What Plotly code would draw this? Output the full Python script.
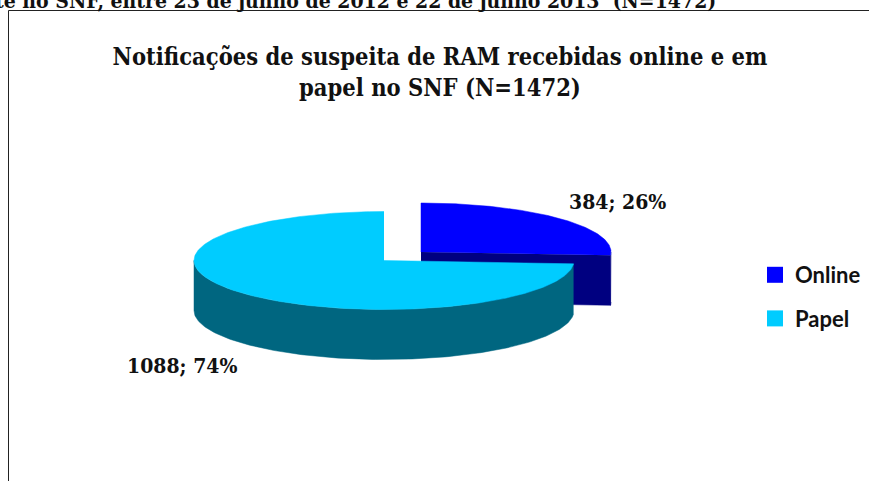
import numpy as np
import plotly.graph_objects as go

categories = ["Online", "Papel"]
values = [384, 1088]
top_colors = ["#0000FF", "#00CCFF"]
side_colors = ["#000080", "#006680"]

title_text = "Notificações de suspeita de RAM recebidas online e em<br>papel no SNF (N=1472)"
caption_text = "te no SNF, entre 23 de junho de 2012 e 22 de junho 2013  (N=1472)"

SERIF = "DejaVu Serif Condensed, DejaVu Serif"
W, H = 869, 481
RX, RY, DEPTH = 190, 49, 50
centres = [(421, 252), (384, 260.5)]

total = sum(values)
fractions = [v / total for v in values]
starts = np.cumsum([0] + fractions[:-1]) * 2 * np.pi
ends = np.cumsum(fractions) * 2 * np.pi


def rim(cx, cy, a0, a1, n=160, dy=0):
    t = np.linspace(a0, a1, n)
    return cx + RX * np.sin(t), cy - RY * np.cos(t) + dy


def poly(x, y, color, name):
    return go.Scatter(x=list(x), y=list(y), mode="lines", fill="toself", fillcolor=color,
                      line=dict(color=color, width=0.5), hoverinfo="skip", showlegend=False, name=name)


fig = go.Figure()

# Online slice: cut face (drawn first), outer wall, top
cx, cy = centres[0]
a0, a1 = starts[0], ends[0]
ex, ey = rim(cx, cy, a1, a1, n=1)
fig.add_trace(poly([cx, ex[0], ex[0], cx], [cy, ey[0], ey[0] + DEPTH, cy + DEPTH], side_colors[0], categories[0]))
x1, y1 = rim(cx, cy, np.pi / 2, a1, n=12)
x2, y2 = rim(cx, cy, a1, np.pi / 2, n=12, dy=DEPTH)
fig.add_trace(poly(np.r_[x1, x2], np.r_[y1, y2], side_colors[0], categories[0]))
x1, y1 = rim(cx, cy, a0, a1)
fig.add_trace(poly(np.r_[cx, x1], np.r_[cy, y1], top_colors[0], categories[0]))

# Papel slice: visible wall then top
cx, cy = centres[1]
a0, a1 = starts[1], ends[1]
x1, y1 = rim(cx, cy, a0, 1.5 * np.pi)
x2, y2 = rim(cx, cy, 1.5 * np.pi, a0, dy=DEPTH)
fig.add_trace(poly(np.r_[x1, x2], np.r_[y1, y2], side_colors[1], categories[1]))
x1, y1 = rim(cx, cy, a0, a1, n=300)
fig.add_trace(poly(np.r_[cx, x1], np.r_[cy, y1], top_colors[1], categories[1]))

# Legend entries
for name, color in zip(categories, top_colors):
    fig.add_trace(go.Scatter(x=[None], y=[None], mode="markers", name=name, legendgroup=name,
                             marker=dict(symbol="square", size=16, color=color)))

labels = [f"{v}; {round(f * 100)}%" for v, f in zip(values, fractions)]
label_pos = [(617, 201), (182, 365)]
for text, (lx, ly) in zip(labels, label_pos):
    fig.add_annotation(x=lx, y=ly, text=text, showarrow=False, xanchor="center", yanchor="middle",
                       font=dict(family=SERIF, size=21, color="#111111", weight="bold"))

fig.add_annotation(x=718, y=0, text=caption_text, showarrow=False, xanchor="right", yanchor="middle",
                   font=dict(family=SERIF, size=21, color="#111111", weight="bold"))

# Chart frame
fig.add_shape(type="line", x0=8.5, x1=8.5, y0=10.5, y1=H, line=dict(color="#222222", width=1))
fig.add_shape(type="line", x0=8.5, x1=W, y0=10.5, y1=10.5, line=dict(color="#222222", width=1))

fig.update_layout(
    width=W, height=H, margin=dict(l=0, r=0, t=0, b=0),
    paper_bgcolor="white", plot_bgcolor="white",
    xaxis=dict(range=[0, W], visible=False, fixedrange=True),
    yaxis=dict(range=[H, 0], visible=False, fixedrange=True),
    title=dict(text=title_text, x=440 / W, xanchor="center", y=1 - 65 / H, yanchor="middle",
               font=dict(family=SERIF, size=23.5, color="#111111", weight="bold")),
    legend=dict(x=755 / W, y=1 - 297 / H, xanchor="left", yanchor="middle",
                font=dict(family="Lato", size=22, color="#111111", weight="bold"),
                itemwidth=30, tracegroupgap=12, bgcolor="rgba(0,0,0,0)"),
)

fig.write_html("out.html", config={"displayModeBar": False},
               post_script="document.body.style.margin='0';document.body.style.overflow='hidden';")
